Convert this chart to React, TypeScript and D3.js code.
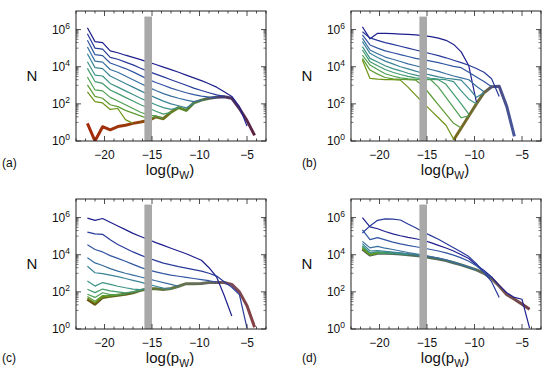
import React from 'react';
import * as d3 from 'd3';

// log(p_W) grid shared by every curve
const logPW = [-21.8, -21.0, -20.2, -19.4, -18.6, -17.8, -17.0, -16.2, -15.4, -14.6, -13.8, -13.0,
  -12.2, -11.4, -10.6, -9.8, -9.0, -8.2, -7.4, -6.6, -5.8, -5.0, -4.2];

// values are log10(N); a curve stops where it runs into the thick one
const thinA = [
  [6.1, 5.35, 5.3, 4.85, 4.75, 4.62, 4.5, 4.38, 4.25, 4.12, 3.98, 3.84, 3.7, 3.55, 3.4, 3.25, 3.08, 2.9, 2.65, 2.4, 1.85, 0.8],
  [5.78, 5.0, 4.95, 4.5, 4.4, 4.25, 4.1, 3.92, 3.75, 3.6, 3.45, 3.3, 3.15, 3.0, 2.85, 2.72, 2.6, 2.48, 2.4],
  [5.42, 4.65, 4.6, 4.2, 4.05, 3.9, 3.72, 3.52, 3.32, 3.15, 3.0, 2.85, 2.72, 2.6, 2.5, 2.42, 2.36, 2.35],
  [5.06, 4.3, 4.25, 3.85, 3.7, 3.5, 3.3, 3.1, 2.9, 2.72, 2.55, 2.42, 2.3, 2.2, 2.12, 2.2],
  [4.7, 3.95, 3.9, 3.5, 3.3, 3.1, 2.9, 2.7, 2.5, 2.32, 2.15, 2.0, 1.9, 1.78, 2.05],
  [4.27, 3.55, 3.5, 3.1, 2.9, 2.7, 2.5, 2.3, 2.12, 1.95, 1.8, 1.7, 1.8],
  [3.91, 3.2, 3.1, 2.75, 2.55, 2.35, 2.15, 1.95, 1.78, 1.6, 1.45, 1.55],
  [3.45, 2.75, 2.7, 2.35, 2.15, 1.95, 1.75, 1.55, 1.4, 1.35, 1.2],
  [3.02, 2.4, 2.3, 1.95, 1.85, 1.65, 1.5, 1.35, 1.2, 1.3],
  [2.65, 2.12, 2.05, 1.7, 1.75, 1.15, 0.95],
];
const thickA = [0.95, 0.0, 0.77, 0.6, 0.78, 0.85, 0.95, 1.02, 1.1, 1.3, 1.2, 1.55, 1.8, 1.65, 2.05, 2.2, 2.3,
  2.35, 2.38, 2.3, 1.75, 1.1, 0.3];

const thinB = [
  [6.15, 5.5, 5.8, 5.8, 5.78, 5.76, 5.74, 5.71, 5.67, 5.62, 5.54, 5.42, 5.2, 4.8, 4.05, 2.1],
  [5.88, 5.55, 5.42, 5.3, 5.2, 5.1, 5.0, 4.9, 4.8, 4.7, 4.6, 4.48, 4.35, 4.22, 4.08, 3.9, 3.7, 3.35, 2.4],
  [5.71, 5.17, 5.0, 4.85, 4.75, 4.65, 4.55, 4.45, 4.38, 4.3, 4.22, 4.12, 4.02, 3.95, 3.7, 3.45, 3.2, 2.92],
  [5.53, 4.9, 4.7, 4.52, 4.4, 4.28, 4.15, 4.05, 3.95, 3.85, 3.75, 3.62, 3.5, 3.4, 3.3, 2.95, 2.65],
  [5.35, 4.72, 4.5, 4.3, 4.15, 4.0, 3.88, 3.76, 3.65, 3.55, 3.45, 3.38, 3.33, 3.28, 2.85, 2.35, 2.6],
  [5.08, 4.45, 4.25, 4.05, 3.9, 3.78, 3.65, 3.55, 3.45, 3.38, 3.33, 3.3, 3.2, 2.7, 2.25, 2.0],
  [4.9, 4.27, 4.05, 3.85, 3.7, 3.58, 3.48, 3.4, 3.35, 3.32, 3.3, 3.05, 2.52, 2.0, 1.45],
  [4.63, 4.09, 3.85, 3.62, 3.5, 3.4, 3.35, 3.32, 3.3, 3.3, 2.9, 2.35, 1.8, 1.25, 1.35],
  [4.45, 3.82, 3.6, 3.42, 3.35, 3.32, 3.3, 3.28, 2.95, 2.45, 1.95, 1.45, 0.95, 0.7],
  [4.36, 3.37, 3.33, 3.3, 3.3, 3.28, 2.9, 2.47, 2.05, 1.65, 1.25, 0.85, 0.1],
];
const thickB = [null, null, null, null, null, null, null, null, null, null, null, null,
  0.05, 0.7, 1.35, 2.0, 2.6, 2.92, 2.95, 1.85, 0.25];

const thinC = [
  [5.97, 5.85, 5.95, 5.75, 5.55, 5.35, 5.15, 4.98, 4.82, 4.65, 4.5, 4.35, 4.2, 4.05, 3.88, 3.7, 3.3, 2.8, 1.8, 0.7],
  [5.22, 5.12, 5.1, 4.8, 4.55, 4.35, 4.15, 3.98, 3.82, 3.68, 3.55, 3.45, 3.36, 3.28, 3.2, 3.12, 3.0, 2.85, 2.55, 2.25, 1.85, 0.05],
  [4.54, 4.28, 4.15, 3.95, 3.8, 3.65, 3.48, 3.32, 3.18, 3.08, 2.98, 2.9, 2.84, 2.78, 2.72, 2.66, 2.6, 2.52],
  [3.83, 3.56, 3.42, 3.25, 3.12, 3.0, 2.9, 2.8, 2.7, 2.6, 2.5, 2.4, 2.3],
  [3.38, 3.03, 2.98, 2.9, 2.82, 2.72, 2.62, 2.52, 2.4, 2.3, 2.2, 2.18],
  [2.58, 2.31, 2.5, 2.4, 2.3, 2.22, 2.15, 2.12, 2.17],
  [2.14, 1.96, 2.15, 2.05, 2.0, 1.95, 2.0, 2.08],
  [1.87, 1.7, 1.95, 1.85, 1.85, 1.87],
  [1.75, 1.5, 1.8, 1.78, 1.82],
  [1.65, 1.4, 1.72, 1.76],
];
const thickC = [1.6, 1.34, 1.7, 1.76, 1.82, 1.87, 1.95, 2.08, 2.17, 2.17, 2.12, 2.18, 2.3, 2.44, 2.44, 2.45,
  2.5, 2.5, 2.5, 2.4, 2.0, 1.25, 0.1];

const thinD = [
  [6.0, 5.5, 5.4, 5.25, 5.12, 5.02, 4.93, 4.86, 4.78, 4.65, 4.5, 4.36, 4.2, 4.0, 3.8, 3.45, 3.15, 2.8, 2.35, 1.95, 1.7, 1.6, 0.05],
  [5.17, 5.55, 5.85, 5.93, 5.92, 5.87, 5.65, 5.45, 5.22, 5.03, 4.83, 4.6, 4.38, 4.15, 3.9, 3.52, 3.05, 2.55, 1.7],
  [5.34, 4.81, 4.92, 4.8, 4.68, 4.58, 4.5, 4.43, 4.36, 4.28, 4.2, 4.1, 3.98, 3.83, 3.65, 3.4, 3.05, 2.75],
  [4.72, 4.37, 4.45, 4.35, 4.28, 4.2, 4.12, 4.05, 3.98, 3.9, 3.82, 3.72, 3.6, 3.47, 3.33, 3.18],
  [4.6, 4.2, 4.22, 4.18, 4.14, 4.1, 4.05, 4.0, 3.94],
  [4.48, 4.1, 4.15, 4.12, 4.08, 4.05, 4.0],
  [4.42, 4.05, 4.12, 4.1, 4.06],
  [4.38, 4.02, 4.1, 4.08],
  [4.34, 4.0, 4.09],
  [4.32, 3.99, 4.08],
];
const thickD = [4.3, 3.98, 4.08, 4.08, 4.06, 4.04, 4.0, 3.96, 3.91, 3.84, 3.77, 3.68, 3.57, 3.45, 3.32, 3.18,
  3.0, 2.72, 2.3, 1.85, 1.6, 1.34, 1.07];

const xTickLabels = [-20, -15, -10, -5];
const yTickExps = [0, 2, 4, 6];
const band = [-15.8, -15.0];
const bandTop = 5e6;

const box = { left: 76, right: 266, top: 11, bottom: 141 };
const font = '"Liberation Sans", Arial, Helvetica, sans-serif';

const curveColor = d3.interpolateRgbBasis(['#1f1f8e', '#2c48a2', '#3a70a2', '#3a8e92', '#3f9e72', '#55a040', '#6e9418']);

const panels = [
  { key: 'a', dx: 0, dy: 0, tagY: 167, thin: thinA, thick: thickA,
    stops: [[0, '#a8260a'], [0.3, '#9a3a0c'], [0.42, '#7a6214'], [0.55, '#5e8a2a'], [0.66, '#587a44'], [0.76, '#4a3a6e'], [0.9, '#56284e'], [1, '#6a1a2a']] },
  { key: 'b', dx: 275, dy: 0, tagY: 167, thin: thinB, thick: thickB,
    stops: [[0, '#7a6a20'], [0.55, '#7a6a20'], [0.7, '#6a6a3a'], [0.76, '#4c4a82'], [0.88, '#445aa0'], [1, '#3a70a0']] },
  { key: 'c', dx: 0, dy: 188, tagY: 362, thin: thinC, thick: thickC,
    stops: [[0, '#6a4a0e'], [0.25, '#5f6a1e'], [0.5, '#627a48'], [0.7, '#66685c'], [0.82, '#7a4a56'], [1, '#8a3a3a']] },
  { key: 'd', dx: 275, dy: 188, tagY: 362, thin: thinD, thick: thickD,
    stops: [[0, '#4a6a56'], [0.65, '#55705a'], [0.78, '#7a5a50'], [1, '#6a3440']] },
];

const x = d3.scaleLinear().domain([-23, -3]).range([box.left, box.right]);
const y = d3.scaleLog().domain([1, 1e7]).range([box.bottom, box.top]);

const line = d3.line<[number, number | null]>()
  .defined((d) => d[1] != null)
  .x((d) => x(d[0]))
  .y((d) => y(Math.pow(10, d[1] as number)));

const pathOf = (vals: (number | null)[]) => line(vals.map((v, i) => [logPW[i], v] as [number, number | null])) || '';

const xTicks = x.ticks(20);
const yMinor: number[] = [];
[0, 2, 4].forEach((e) => d3.range(1, 10).forEach((m) => yMinor.push(m * Math.pow(10, e + 1))));

function Panel({ p }: { p: typeof panels[number] }) {
  const clipId = `clip-${p.key}`;
  const gradId = `thick-${p.key}`;
  return (
    <g transform={`translate(${p.dx},${p.dy})`}>
      <defs>
        <clipPath id={clipId}>
          <rect x={box.left} y={box.top} width={box.right - box.left} height={box.bottom - box.top} />
        </clipPath>
        <linearGradient id={gradId} gradientUnits="userSpaceOnUse" x1={box.left} x2={box.right} y1={0} y2={0}>
          {p.stops.map(([o, c]) => <stop key={String(o)} offset={o as number} stopColor={c as string} />)}
        </linearGradient>
      </defs>
      <g clipPath={`url(#${clipId})`}>
        <path d={pathOf(p.thick)} fill="none" stroke={`url(#${gradId})`} strokeWidth={3} strokeLinejoin="round" />
        {p.thin.map((vals, i) => (
          <path key={i} d={pathOf(vals)} fill="none" stroke={curveColor(i / (p.thin.length - 1))}
            strokeWidth={1.2} strokeLinejoin="round" />
        ))}
        <rect x={x(band[0])} width={x(band[1]) - x(band[0])} y={y(bandTop)} height={y(1) - y(bandTop)} fill="#a9a9a9" />
      </g>
      <rect x={box.left} y={box.top} width={box.right - box.left} height={box.bottom - box.top}
        fill="none" stroke="#222" strokeWidth={1} />
      {xTicks.map((t) => {
        const len = t % 5 === 0 ? 5 : 2.5;
        return (
          <g key={`xt${t}`} stroke="#222" strokeWidth={0.8}>
            <line x1={x(t)} x2={x(t)} y1={box.bottom} y2={box.bottom - len} />
            <line x1={x(t)} x2={x(t)} y1={box.top} y2={box.top + len} />
          </g>
        );
      })}
      {yTickExps.map((e) => (
        <g key={`yt${e}`} stroke="#222" strokeWidth={0.8}>
          <line x1={box.left} x2={box.left + 5} y1={y(Math.pow(10, e))} y2={y(Math.pow(10, e))} />
          <line x1={box.right} x2={box.right - 5} y1={y(Math.pow(10, e))} y2={y(Math.pow(10, e))} />
        </g>
      ))}
      {yMinor.map((v) => (
        <g key={`ym${v}`} stroke="#222" strokeWidth={0.6}>
          <line x1={box.left} x2={box.left + 2.5} y1={y(v)} y2={y(v)} />
          <line x1={box.right} x2={box.right - 2.5} y1={y(v)} y2={y(v)} />
        </g>
      ))}
      <g fontFamily={font} fill="#111">
        {xTickLabels.map((t) => (
          <text key={`xl${t}`} x={x(t)} y={box.bottom + 18} fontSize={12} textAnchor="middle">
            {`\u2212${Math.abs(t)}`}
          </text>
        ))}
        {yTickExps.map((e) => (
          <text key={`yl${e}`} x={box.left - 6} y={y(Math.pow(10, e)) + 4} fontSize={12} textAnchor="end">
            10<tspan dy={-5} fontSize={8.5}>{e}</tspan>
          </text>
        ))}
        <text x={32} y={(box.top + box.bottom) / 2 + 5} fontSize={15} textAnchor="middle">N</text>
        <text x={(box.left + box.right) / 2 - 1} y={box.bottom + 34} fontSize={15} textAnchor="middle">
          log(p<tspan dy={4} fontSize={10.5}>W</tspan><tspan dy={-4}>)</tspan>
        </text>
        <text x={p.dx === 0 ? 2 : 27} y={p.tagY - p.dy} fontSize={12}>{`(${p.key})`}</text>
      </g>
    </g>
  );
}

export default function App() {
  return (
    <svg width={550} height={375} style={{ position: 'absolute', left: 0, top: 0, background: '#fff' }}>
      <rect width={550} height={375} fill="#fff" />
      {panels.map((p) => <Panel key={p.key} p={p} />)}
    </svg>
  );
}
